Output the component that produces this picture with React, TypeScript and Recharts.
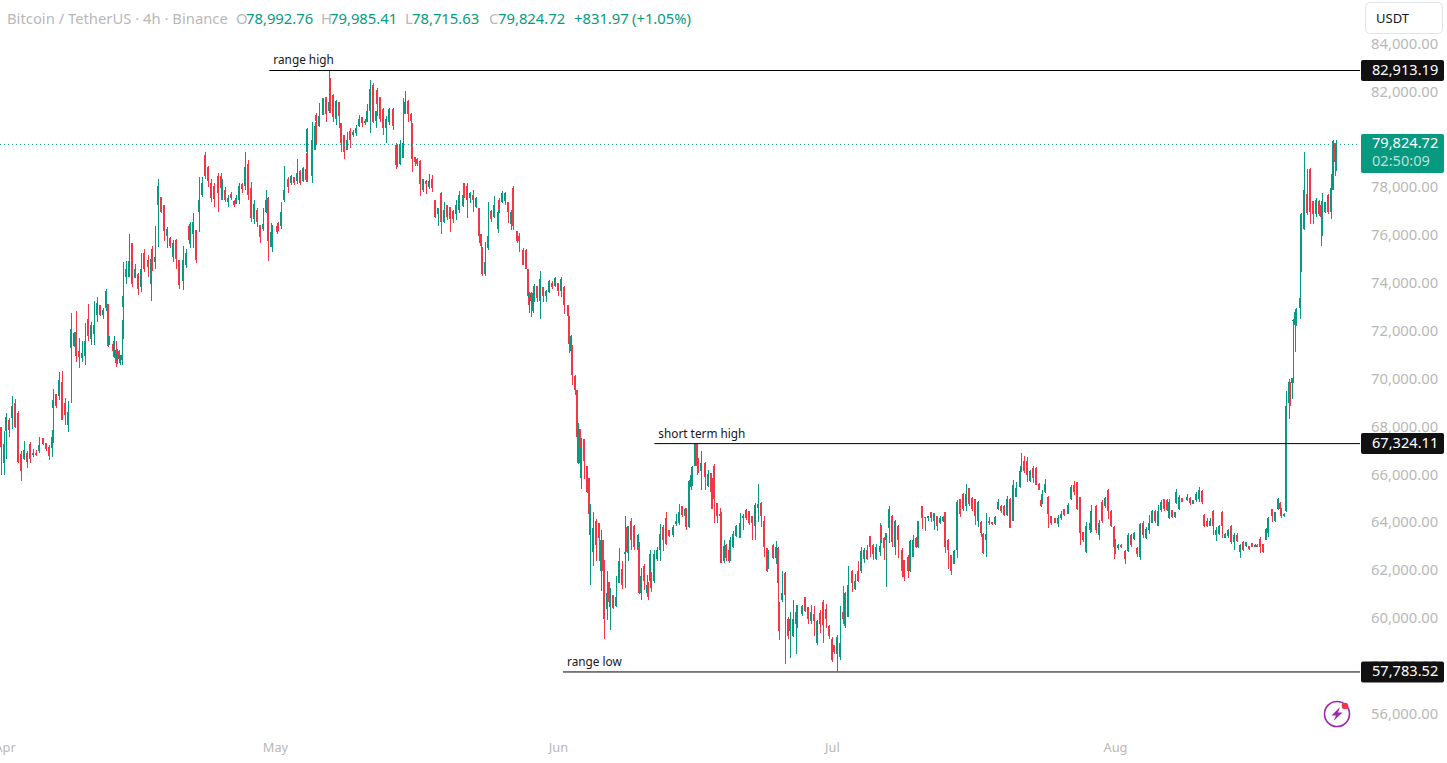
import React from "react";
import { ComposedChart, Bar, XAxis, YAxis, ReferenceLine } from "recharts";

// Rows: [4h bar number, open, high, low, close]; prices in thousands of USDT.
type Row = [number, number, number, number, number];

const aprBars: Row[] = [
[1,68.03,68.03,66.0,67.2],[3,66.5,67.85,66.0,67.3],[4,67.85,68.6,66.7,68.45],[6,68.3,68.4,67.6,67.9],[8,68.4,69.3,67.95,68.9],[10,69.0,69.2,67.97,68.0],[12,68.6,68.7,66.5,66.55],[14,66.9,67.0,65.75,66.2],[16,66.7,67.43,66.65,67.05],[18,66.95,67.0,66.3,66.55],
[20,67.3,67.4,66.5,66.7],[22,66.85,67.1,66.75,66.95],[24,66.95,67.05,66.8,66.85],[26,67.0,67.6,66.95,67.25],[28,67.55,67.55,67.25,67.3],[30,67.35,67.35,67.0,67.1],[32,67.2,67.25,66.65,66.8],[34,67.15,67.9,66.75,67.6],[35,68.8,69.6,67.35,69.15],[37,69.4,69.4,68.8,68.9],
[39,69.3,70.3,69.15,70.0],[41,69.9,70.35,68.3,68.3],[43,69.0,69.25,68.1,68.5],[45,68.1,69.1,67.8,68.65],[47,71.3,72.77,69.0,72.1],[49,71.4,72.0,71.35,71.95],[50,72.0,72.85,70.75,71.0],[52,71.2,71.75,70.5,70.95],[54,70.9,71.6,70.75,71.1],[56,71.0,72.35,70.6,71.6],
[58,72.55,73.15,71.6,71.8],[60,71.7,72.4,71.45,72.3],[62,71.9,73.3,71.45,72.3],[64,72.7,73.45,72.4,73.2],[66,73.1,73.1,72.65,72.7],[68,72.7,73.0,72.55,72.9],[70,73.0,73.8,72.85,73.7],[71,73.15,73.16,71.34,71.4],[72,71.45,71.82,71.45,71.8],[74,71.5,71.54,70.96,71.2],
[75,71.0,71.82,70.89,71.6],[76,71.24,71.63,70.54,70.68],[77,70.8,71.28,70.65,71.1],[78,71.2,71.24,70.75,70.85],[79,70.7,71.03,70.61,71.0],[80,70.8,72.49,70.61,71.03],[81,73.05,74.9,71.7,73.5],[83,74.3,74.95,74.0,74.6],[85,74.3,76.08,74.3,74.95],[87,75.7,75.7,73.85,74.0],
[89,74.25,74.83,74.23,74.6],[91,74.4,74.45,73.55,73.8],[93,73.85,75.3,73.65,74.6],[95,75.3,75.45,74.5,74.6],[97,75.0,75.2,74.3,74.7],[99,74.0,75.45,73.3,75.05],[100,75.1,75.6,74.55,74.85],[102,74.9,76.4,74.6,75.1],[104,77.3,78.38,75.55,78.08],[106,77.64,77.64,76.94,77.0],
[108,77.29,77.29,75.8,76.2],[110,76.0,76.36,75.48,76.3],[112,75.9,75.95,75.5,75.6],[114,75.1,75.85,74.9,75.7],[116,75.85,75.87,74.62,75.05],[118,75.0,75.0,73.78,73.95],[120,74.1,75.58,73.74,75.0],[122,74.8,75.45,74.68,75.3],[124,76.4,76.52,75.65,75.85],[125,75.7,76.6,75.5,76.4],
[127,76.1,76.94,75.5,76.6],[129,76.24,76.24,74.85,75.0],[131,77.0,78.47,76.18,77.5],[133,77.7,78.47,77.64,78.2],[135,79.4,79.49,78.4,78.5],[137,78.9,78.93,78.05,78.3],[139,78.2,78.4,77.43,77.6],[141,78.1,78.2,77.22,77.55],[143,78.5,78.61,77.0,77.8],[145,78.5,78.61,77.5,78.0],
[146,77.7,78.4,77.5,78.25],[148,77.9,78.05,77.43,77.5],[150,77.4,77.7,77.22,77.6],[152,77.75,77.85,77.5,77.6],[154,77.45,77.5,77.19,77.3],[155,77.35,77.7,77.33,77.6],[157,77.5,78.22,77.35,78.1],[159,78.15,78.22,77.8,77.95],[161,78.1,79.49,77.92,78.9],[163,79.0,79.17,77.5,77.7],
[165,78.0,78.26,76.6,76.75],[167,76.7,77.5,76.52,77.35],[169,77.1,77.15,76.38,76.6],[171,76.45,76.45,75.72,75.95],[173,76.3,77.15,76.2,76.5],[175,77.0,77.92,76.94,77.5],[176,77.6,77.64,74.97,75.8],[178,75.55,76.53,75.55,76.15],[179,75.85,76.45,75.35,76.1],
];

const mayBars: Row[] = [
[182,76.4,76.5,76.1,76.15],[183,76.55,76.6,76.2,76.3],[185,76.4,77.43,76.3,77.0],[187,77.5,78.92,77.43,77.9],[189,78.4,78.47,77.8,78.05],[191,78.2,78.55,78.13,78.5],[193,78.45,78.47,78.13,78.2],[195,78.3,79.2,78.16,78.65],[197,78.7,78.75,78.13,78.2],[199,78.3,78.9,78.27,78.85],
[201,78.8,79.45,78.27,78.35],[202,79.5,80.5,78.27,80.45],[205,78.5,80.77,78.2,80.0],[207,79.6,80.77,79.58,80.6],[208,81.05,81.12,79.8,80.8],[210,80.6,81.55,80.55,81.0],[212,81.05,81.75,81.05,81.75],[214,81.8,81.82,80.77,81.1],[216,81.2,82.9,81.12,81.6],[217,82.0,82.58,81.12,81.6],
[219,81.9,81.95,80.77,80.95],[221,80.87,81.7,80.65,81.65],[223,81.6,81.6,80.5,81.0],[224,80.7,80.7,79.52,79.9],[226,80.2,80.2,79.2,79.5],[228,79.6,80.35,79.6,80.0],[230,80.4,80.5,79.67,80.0],[232,80.2,80.42,80.15,80.35],[234,80.3,80.63,80.17,80.5],[236,80.6,81.05,80.55,80.9],
[238,80.95,80.98,80.55,80.7],[240,80.7,80.9,80.63,80.8],[241,80.75,81.5,80.75,81.2],[243,81.2,82.5,80.3,82.15],[245,82.3,82.38,80.7,80.75],[247,80.8,81.23,80.5,81.2],[248,82.1,82.17,81.0,81.5],[250,81.8,81.82,80.77,80.9],[252,81.3,81.33,80.2,80.5],[254,80.5,81.0,79.87,80.9],
[256,80.75,81.33,80.63,81.3],[258,81.3,81.33,80.43,80.6],[260,79.8,79.87,78.78,78.95],[261,79.8,79.83,78.87,79.0],[263,79.0,80.0,78.96,79.85],[265,79.25,81.75,79.24,79.9],[266,81.1,82.05,81.08,81.6],[268,81.65,81.68,80.77,81.1],[270,81.1,81.12,80.35,80.8],[271,80.7,80.7,78.68,79.2],
[273,79.3,79.3,78.92,79.1],[274,79.2,79.24,78.92,79.0],[276,79.15,79.17,77.68,78.15],[278,77.9,78.4,77.85,78.4],[280,78.3,78.34,77.75,78.15],[282,78.05,78.6,77.98,78.3],[284,78.4,78.55,77.85,78.0],[286,77.5,77.5,76.77,76.8],[288,76.9,77.15,76.4,77.15],[290,77.8,77.82,76.08,76.6],
[292,76.6,77.43,76.53,77.1],[294,77.3,77.3,76.66,76.8],[296,77.2,77.22,76.18,76.7],[298,77.05,77.08,76.53,76.7],[300,76.9,77.5,76.66,77.3],[302,77.1,77.87,76.94,77.7],[304,77.25,77.78,77.22,77.7],[305,78.2,78.2,77.57,77.7],[307,78.1,78.2,76.76,77.5],[309,77.6,77.85,77.36,77.8],
[311,77.7,77.92,77.0,77.5],[313,77.2,77.64,77.15,77.6],[315,77.15,77.15,75.72,76.0],[316,76.1,76.1,75.34,75.6],[317,75.5,75.55,74.32,74.4],[319,74.4,75.76,74.32,74.9],[321,75.5,77.4,75.4,76.0],[323,77.05,77.08,76.6,76.7],[325,76.8,77.67,76.73,77.3],[327,76.3,77.22,76.13,77.0],
[328,77.5,77.57,76.94,77.1],[330,77.4,77.87,77.36,77.8],[332,77.45,77.85,77.3,77.8],[334,77.4,77.43,76.53,77.0],[336,76.5,77.08,76.25,77.0],[337,78.0,78.08,76.25,76.4],[340,76.2,76.2,75.7,75.8],[341,76.0,76.13,75.34,75.8],[344,75.4,75.48,74.8,74.8],[346,75.4,75.45,74.6,74.6],
[347,74.6,74.6,73.1,73.5],[348,73.4,73.64,72.77,73.6],[349,73.6,73.64,72.63,73.3],[350,72.85,73.82,72.8,73.6],[351,73.3,74.0,73.26,73.9],[353,73.9,73.91,73.26,73.4],[355,73.3,74.54,72.52,74.2],[357,73.85,73.85,73.26,73.5],[359,73.5,73.75,73.26,73.7],[361,73.65,74.16,73.6,74.1],
[363,74.05,74.1,73.8,73.85],[365,73.9,74.3,73.88,74.25],
];

const junBars: Row[] = [
[367,74.05,74.05,73.5,73.7],[369,73.7,74.28,73.47,74.2],[371,73.85,73.89,72.74,73.1],[373,73.1,73.12,72.35,72.65],[374,72.65,72.66,71.13,71.5],[375,71.2,71.85,70.71,71.8],[376,71.45,71.45,69.78,70.2],[378,70.15,70.2,69.36,69.55],[379,69.55,69.57,67.13,67.6],[380,66.5,68.18,66.48,68.0],
[381,67.95,67.95,66.23,66.5],[382,65.9,67.55,65.43,67.2],[384,67.5,67.52,65.84,66.6],[386,66.4,66.4,65.28,65.3],[387,65.9,65.9,64.13,64.4],[388,63.5,64.8,61.43,64.55],[390,62.8,64.48,62.2,63.8],[392,64.1,64.17,62.4,63.1],[394,64.0,64.0,62.4,63.4],[395,62.0,63.72,61.17,63.3],
[396,63.3,63.3,61.98,62.0],[397,62.4,62.47,59.16,60.0],[399,60.4,62.0,59.96,61.1],[400,61.55,61.55,60.55,60.7],[401,60.5,61.28,59.54,60.7],[403,61.0,61.0,60.42,60.45],[405,60.55,61.8,60.49,60.9],[407,61.5,62.95,61.52,62.4],[409,62.1,62.4,61.24,61.4],[411,62.7,64.28,61.28,62.8],
[412,63.85,63.89,62.77,62.8],[413,62.9,63.89,62.42,63.4],[415,64.1,64.2,62.88,63.3],[417,63.9,63.93,62.88,63.0],[419,62.9,63.55,62.47,63.5],[420,63.0,63.23,61.04,61.1],[421,61.1,62.12,60.79,61.8],[423,62.2,62.3,61.2,61.6],[425,61.1,61.84,61.07,61.4],[426,61.55,61.56,60.8,60.9],
[427,61.6,62.88,61.56,62.7],[428,61.95,61.98,61.14,61.3],[430,61.6,62.88,61.52,62.7],[432,62.5,63.02,62.4,62.9],[434,62.9,63.95,62.4,63.55],[436,63.85,63.93,62.85,63.3],[438,64.2,64.45,63.1,63.15],[440,63.7,63.72,63.44,63.45],[442,63.5,63.93,63.44,63.85],[444,63.95,64.37,63.9,64.1],
[446,64.0,64.8,63.93,64.45],[448,64.7,64.72,64.27,64.35],[450,64.3,64.62,63.93,64.6],[451,64.55,64.62,63.72,63.85],[453,63.85,65.8,63.8,65.75],[454,65.5,66.02,65.39,66.0],[455,65.6,66.4,65.55,66.35],[457,66.4,67.34,66.39,67.3],[458,67.3,67.34,66.02,66.4],[459,66.7,66.72,66.1,66.2],
[461,66.2,67.02,65.39,66.5],[463,66.5,66.57,65.39,65.95],[465,65.55,66.23,65.53,66.05],[467,66.1,66.09,65.25,65.3],[468,65.9,65.88,64.6,64.6],[469,66.4,66.48,64.0,65.0],[471,64.85,64.83,64.0,64.3],[473,64.4,64.62,63.72,64.3],[474,64.4,64.48,62.33,62.35],[476,62.4,63.3,62.33,63.05],
[477,63.1,63.13,62.42,62.55],[479,62.9,62.9,62.35,62.4],[480,62.45,63.44,62.4,63.3],[482,63.0,63.69,62.95,63.55],[484,63.45,63.93,63.44,63.9],[486,63.4,64.41,63.37,64.0],[488,64.2,64.4,63.7,64.3],[490,64.55,64.59,64.15,64.2],[492,64.5,64.5,63.92,64.0],[494,64.3,64.3,63.29,64.0],
[496,63.9,64.85,63.29,64.75],[498,64.65,65.63,64.05,64.8],[500,64.85,64.87,63.85,64.3],[502,64.1,64.3,62.6,63.0],[504,62.95,62.95,61.97,62.0],[505,62.2,62.88,62.1,62.8],[508,63.1,63.13,62.5,62.55],[510,62.55,63.25,62.3,63.0],[511,62.95,63.0,60.23,61.5],[512,60.7,60.7,59.1,59.5],
[514,60.8,62.0,60.7,61.1],[516,61.9,61.97,58.11,61.0],[518,60.0,60.09,59.18,59.3],[519,59.5,60.3,58.35,60.0],[521,59.3,60.79,59.25,60.0],[523,59.8,60.58,58.53,60.3],[524,59.6,60.6,59.6,60.1],[527,60.2,60.58,60.12,60.55],[529,60.9,60.9,60.3,60.35],[531,60.5,60.5,59.8,60.0],
[533,59.9,60.58,59.8,60.3],[535,60.2,60.55,59.28,59.9],[537,59.0,59.95,58.9,59.9],[539,60.25,60.37,59.4,59.8],[541,60.7,60.79,59.0,59.75],[543,60.4,60.62,59.6,60.0],[545,59.7,59.75,59.18,59.3],
];

const julBars: Row[] = [
[547,59.15,59.25,58.2,58.3],[548,58.9,58.9,58.53,58.6],[550,58.55,59.32,57.83,59.25],[552,58.4,60.53,58.3,59.0],[554,60.3,61.37,59.8,60.0],[555,59.7,61.13,59.6,61.1],[557,60.1,62.2,60.1,61.4],[560,62.0,62.04,61.13,61.5],[562,61.25,61.87,61.2,61.6],[564,62.0,62.42,61.55,61.6],
[566,62.0,63.0,61.93,62.85],[568,62.5,62.95,62.35,62.9],[570,62.9,63.08,62.46,62.5],[572,63.45,63.46,62.6,63.0],[574,63.1,63.15,62.45,62.7],[576,62.5,63.13,62.46,63.0],[578,62.8,64.0,62.62,63.05],[579,63.9,63.92,63.18,63.3],[581,63.4,63.43,62.46,62.95],[582,63.3,63.6,61.34,63.6],
[584,63.8,64.71,63.18,64.6],[586,64.3,64.34,63.0,63.2],[588,63.0,64.13,62.67,64.1],[590,63.9,63.92,62.53,63.3],[593,62.9,62.95,61.76,62.0],[594,62.45,62.46,61.6,61.75],[597,62.6,62.67,61.72,62.0],[598,62.0,63.3,61.97,63.25],[600,62.6,63.5,62.57,63.3],[602,63.4,63.43,62.95,63.0],
[603,63.0,64.1,62.97,64.1],[606,64.7,64.71,63.74,64.2],[608,64.2,64.27,63.68,64.25],[610,64.2,64.3,64.1,64.3],[612,64.45,64.48,64.06,64.2],[614,64.1,64.43,63.7,64.42],[616,64.3,64.3,63.67,63.9],[618,64.0,64.3,63.96,64.2],[620,64.1,64.3,64.06,64.25],[621,64.45,64.45,62.76,63.0],
[623,63.3,63.32,62.1,62.9],[625,62.65,62.67,61.83,62.0],[627,62.3,62.88,62.3,62.85],[629,62.9,64.96,62.53,64.9],[631,65.0,65.03,64.27,64.4],[633,65.2,65.28,64.52,64.6],[635,64.7,65.63,64.52,65.2],[637,65.45,65.49,64.71,64.8],[639,65.05,65.08,64.52,64.6],[641,65.0,65.03,63.92,64.3],
[643,64.1,64.94,63.85,64.9],[645,64.05,64.09,63.43,63.6],[646,63.55,63.57,62.7,62.75],[648,63.3,64.41,62.57,63.55],[650,64.1,64.27,63.92,64.0],[652,64.05,64.06,63.92,63.95],[654,63.95,64.3,63.92,64.25],[656,64.6,64.99,64.55,64.9],[658,64.7,64.75,64.41,64.5],[660,64.7,64.75,64.3,64.35],
[662,64.35,65.13,64.3,65.0],[664,65.0,65.07,63.78,63.8],[666,64.1,65.8,64.09,65.6],[668,65.1,65.73,65.1,65.45],[670,65.5,66.29,65.45,66.2],[671,66.2,66.95,66.15,66.4],[673,66.6,66.8,66.08,66.2],[675,66.6,66.77,65.73,66.0],[677,65.75,66.22,65.73,66.2],[679,66.3,66.38,65.66,65.9],
[681,66.3,66.33,65.59,65.6],[683,65.65,65.66,65.38,65.4],[684,64.95,64.96,64.68,64.7],[685,64.85,65.38,64.82,65.2],[687,65.3,65.84,65.24,65.65],[689,65.1,65.13,63.78,64.4],[691,64.3,64.3,63.92,64.0],[693,64.2,64.2,63.99,64.0],[695,63.95,64.34,63.85,64.2],[697,64.2,64.5,64.13,64.4],
[699,64.6,64.61,64.3,64.35],[702,64.4,64.85,64.4,64.75],[704,65.0,65.59,64.96,65.5],[706,65.6,65.76,65.17,65.3],[708,65.7,65.7,64.55,64.6],[710,65.1,65.1,63.08,63.6],[712,63.63,63.64,63.22,63.3],[714,62.8,64.06,62.76,63.9],[716,63.7,64.2,63.57,64.0],[717,64.0,64.75,63.64,64.5],
[720,64.7,64.75,63.57,63.7],[722,63.5,64.13,63.29,64.0],[724,64.9,64.96,63.99,64.1],[726,64.7,65.1,64.62,65.05],[728,65.4,65.41,64.16,64.5],[730,64.5,64.55,63.85,63.9],
];

const augBars: Row[] = [
[732,63.85,63.88,62.5,63.0],[733,63.3,63.33,62.7,62.9],[735,62.95,63.15,62.87,63.1],[737,63.1,63.15,62.97,63.0],[739,62.85,62.87,62.29,62.5],[741,62.85,63.57,62.8,63.5],[743,63.5,63.54,63.01,63.1],[745,63.35,63.64,63.29,63.6],[747,62.95,63.01,62.6,62.7],[749,62.6,63.99,62.46,63.95],
[751,64.0,64.09,63.36,63.5],[753,63.4,63.82,63.33,63.75],[755,63.7,64.34,63.53,64.0],[757,64.0,64.55,63.99,64.5],[759,64.5,64.55,63.99,64.1],[761,63.9,64.75,63.88,64.5],[763,64.55,64.96,64.48,64.9],[765,65.0,65.03,64.52,64.6],[767,64.95,64.99,64.52,64.55],[768,64.2,64.99,64.17,64.9],
[770,64.55,64.55,64.2,64.25],[772,64.25,64.48,64.2,64.45],[773,64.85,65.41,64.8,65.3],[775,64.6,65.17,64.55,65.1],[777,65.05,65.07,64.89,64.9],[780,64.95,65.2,64.93,65.1],[782,65.05,65.1,64.78,64.85],[784,64.8,64.96,64.8,64.95],[786,64.95,65.31,64.9,65.2],[788,65.0,65.5,64.87,65.4],
[790,65.35,65.38,64.82,64.9],[791,64.35,64.38,63.85,63.9],[793,64.1,64.2,63.82,63.9],[795,63.9,64.2,63.88,64.1],[797,64.5,64.55,63.5,63.9],[799,63.5,63.85,63.27,63.7],[801,63.55,63.92,63.5,63.9],[803,64.45,64.5,63.36,63.9],[805,63.4,63.6,63.36,63.55],[807,63.45,63.74,63.36,63.7],
[809,63.9,63.92,63.15,63.2],[811,63.2,63.57,62.87,63.5],[813,63.5,63.57,63.22,63.25],[815,62.8,63.12,62.55,63.1],[817,63.2,63.25,62.85,62.9],[819,63.05,63.22,63.01,63.2],[821,63.03,63.04,62.9,62.92],[823,63.17,63.18,63.0,63.02],[825,63.02,63.12,63.0,63.1],[826,63.1,63.12,63.0,63.02],
[828,63.35,63.43,62.77,63.0],[830,63.15,63.15,62.77,62.8],[832,63.3,63.78,63.29,63.75],[833,63.6,64.27,63.43,64.2],[836,64.6,64.61,64.06,64.3],[838,64.1,64.48,64.06,64.45],[840,64.6,65.07,64.55,65.0],[841,64.85,64.9,64.3,64.6],[842,64.6,64.62,64.2,64.3],[844,64.3,64.43,64.24,64.4],
[845,64.5,69.52,64.45,68.9],[847,69.0,70.02,68.37,69.9],[848,69.9,69.91,68.9,68.95],[849,69.84,70.05,69.2,70.05],[850,72.45,72.52,69.84,72.5],[851,72.28,72.84,71.17,72.84],[852,72.3,72.98,72.24,72.95],[854,72.97,75.8,72.52,73.4],[855,74.5,76.94,74.5,76.9],[857,76.3,79.5,76.24,77.9],
[859,77.75,78.78,76.87,76.95],[861,78.8,78.82,76.52,77.0],[863,77.45,77.45,76.52,76.9],[865,76.9,77.57,76.8,77.5],[867,77.45,77.5,76.83,76.9],[868,77.3,77.43,75.59,76.8],[869,76.7,77.8,76.0,77.45],[871,77.0,77.43,76.94,77.4],[873,77.7,77.77,76.91,77.0],[875,77.0,78.6,76.7,78.0],
[876,77.9,80.0,77.9,79.95],[877,79.9,79.9,78.5,79.1],[878,78.99,79.99,78.72,79.82],
];

const candles = [...aprBars, ...mayBars, ...junBars, ...julBars, ...augBars].map(
  ([bar, open, high, low, close]) => ({ bar, open, high, low, close })
);

const priceTicks = [56, 58, 60, 62, 64, 66, 68, 70, 72, 74, 76, 78, 80, 82, 84];
const monthTicks = [1, 181, 367, 547, 733];
const monthNames = ["Apr", "May", "Jun", "Jul", "Aug"];

const rangeHigh = 82.91319;
const shortTermHigh = 67.32411;
const rangeLow = 57.78352;
const lastPrice = 79.82472;
const rangeHighFrom = 177;
const shortTermHighFrom = 430;
const rangeLowFrom = 370;

const BAR_DOMAIN = [0, 893.7];
const PRICE_DOMAIN = [55.15, 85.858];
const UP = "#089981";
const DOWN = "#f23645";
const GREY = "#b8b8b8";
const FONT = "'Noto Sans', sans-serif";
const SIZE = 14.8;

const money = (k: number) =>
  (k * 1000).toLocaleString("en-US", { minimumFractionDigits: 2, maximumFractionDigits: 2 });

function Candle(props: any) {
  const { x, y, width, height, payload } = props;
  const { open, high, low, close } = payload;
  const at = (p: number) => y + ((high - p) / (high - low)) * height;
  const cx = Math.round(x + width / 2);
  const top = at(Math.max(open, close));
  const bottom = at(Math.min(open, close));
  const fill = close >= open ? UP : DOWN;
  return (
    <g shapeRendering="crispEdges">
      <rect x={cx} y={y} width={1} height={Math.max(height, 1)} fill={fill} />
      <rect x={cx - 1} y={top} width={2} height={Math.max(bottom - top, 1)} fill={fill} />
    </g>
  );
}

function MonthTick(props: any) {
  const { x, y, index } = props;
  return (
    <text x={index === 0 ? x + 3.5 : x} y={y + 6} textAnchor="middle" fill={GREY} fontFamily={FONT} fontSize={12.8} dominantBaseline="middle">
      {monthNames[index]}
    </text>
  );
}

function LevelLabel(props: any) {
  const { viewBox, name, price } = props;
  const left = viewBox.x;
  const right = viewBox.x + viewBox.width;
  const y = viewBox.y;
  return (
    <g>
      <text x={left + 4} y={y - 6} fill="#131722" fontFamily={FONT} fontSize={11.8}>{name}</text>
      <rect x={right + 1} y={y - 10.5} width={83} height={21} rx={2} fill="#111111" />
      <text x={right + 12} y={y + 0.5} dominantBaseline="middle" fill="#ffffff" fontFamily={FONT} fontSize={SIZE - 0.2}>{money(price)}</text>
    </g>
  );
}

function PriceTag(props: any) {
  const { viewBox, price } = props;
  const right = viewBox.x + viewBox.width;
  const y = viewBox.y;
  return (
    <g>
      <rect x={right + 1} y={y - 10.5} width={83} height={39} rx={2} fill={UP} />
      <text x={right + 12} y={y} dominantBaseline="middle" fill="#ffffff" fontFamily={FONT} fontSize={SIZE - 0.2}>{money(price)}</text>
      <text x={right + 12} y={y + 18} dominantBaseline="middle" fill="#ffffff" fillOpacity={0.72} fontFamily={FONT} fontSize={SIZE - 0.2}>02:50:09</text>
    </g>
  );
}

const header: { text: string; left: number; color: string }[] = [
  { text: "Bitcoin / TetherUS · 4h · Binance", left: 7, color: GREY },
  { text: "O", left: 236, color: GREY },
  { text: "78,992.76", left: 246, color: UP },
  { text: "H", left: 321, color: GREY },
  { text: "79,985.41", left: 330, color: UP },
  { text: "L", left: 405, color: GREY },
  { text: "78,715.63", left: 412, color: UP },
  { text: "C", left: 489, color: GREY },
  { text: "79,824.72", left: 498, color: UP },
  { text: "+831.97", left: 574, color: UP },
  { text: "(+1.05%)", left: 632, color: UP },
];

export default function App() {
  return (
    <div style={{ position: "absolute", left: 0, top: 0, width: 1447, height: 763, background: "#fff", overflow: "hidden" }}>
      <ComposedChart width={1447} height={763} data={candles} margin={{ top: 0, right: 0, bottom: 0, left: 0 }}>
        <XAxis
          dataKey="bar"
          type="number"
          domain={BAR_DOMAIN}
          allowDataOverflow
          ticks={monthTicks}
          interval={0}
          tick={<MonthTick />}
          tickLine={false}
          axisLine={false}
          height={28}
        />
        <YAxis
          orientation="right"
          domain={PRICE_DOMAIN}
          allowDataOverflow
          ticks={priceTicks}
          interval={0}
          width={87}
          tickLine={false}
          axisLine={false}
          tickSize={0}
          tickMargin={11}
          tickFormatter={money}
          tick={{ fill: GREY, fontFamily: FONT, fontSize: SIZE, dy: -1, textAnchor: "start" }}
        />
        <Bar
          dataKey={(d: any) => [d.low, d.high]}
          barSize={2}
          shape={<Candle />}
          isAnimationActive={false}
        />
      </ComposedChart>

      {/* Level lines and price tags sit in a second chart so that they cover the axis labels. */}
      <div style={{ position: "absolute", left: 0, top: 0 }}>
        <ComposedChart width={1447} height={763} data={candles} margin={{ top: 0, right: 87, bottom: 28, left: 0 }}>
          <XAxis dataKey="bar" type="number" domain={BAR_DOMAIN} allowDataOverflow hide />
          <YAxis domain={PRICE_DOMAIN} allowDataOverflow hide />
          <ReferenceLine
            y={lastPrice}
            stroke={UP}
            strokeDasharray="1 3"
            label={<PriceTag price={lastPrice} />}
          />
          <ReferenceLine
            segment={[{ x: rangeHighFrom, y: rangeHigh }, { x: BAR_DOMAIN[1], y: rangeHigh }]}
            stroke="#000"
            label={<LevelLabel name="range high" price={rangeHigh} />}
          />
          <ReferenceLine
            segment={[{ x: shortTermHighFrom, y: shortTermHigh }, { x: BAR_DOMAIN[1], y: shortTermHigh }]}
            stroke="#000"
            label={<LevelLabel name="short term high" price={shortTermHigh} />}
          />
          <ReferenceLine
            segment={[{ x: rangeLowFrom, y: rangeLow }, { x: BAR_DOMAIN[1], y: rangeLow }]}
            stroke="#000"
            label={<LevelLabel name="range low" price={rangeLow} />}
          />
        </ComposedChart>
      </div>

      {header.map((h) => (
        <span key={h.left} style={{ position: "absolute", left: h.left, top: 8, color: h.color, fontFamily: FONT, fontSize: SIZE, lineHeight: "20px", whiteSpace: "nowrap" }}>
          {h.text}
        </span>
      ))}

      <div style={{ position: "absolute", left: 1365, top: 2, width: 78, height: 32, boxSizing: "border-box", background: "#fff", border: "1px solid #e0e3eb", borderRadius: 5, color: "#131722", fontFamily: FONT, fontSize: 13, lineHeight: "30px", paddingLeft: 10 }}>
        USDT
      </div>

      <svg style={{ position: "absolute", left: 1320, top: 698 }} width={34} height={34}>
        <circle cx={17} cy={16} r={12.5} fill="none" stroke="#9c27b0" strokeWidth={1.6} />
        <path d="M20 9 L11.5 17.5 L16 17.5 L13.5 23 L22.5 14.5 L18 14.5 Z" fill="#9c27b0" />
        <circle cx={25} cy={8} r={3.3} fill="#f23645" />
      </svg>
    </div>
  );
}
